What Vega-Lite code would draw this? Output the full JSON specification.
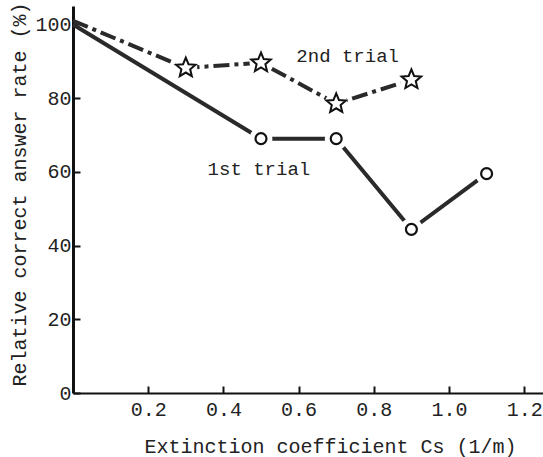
{
  "$schema": "https://vega.github.io/schema/vega-lite/v6.json",
  "width": 470,
  "height": 387,
  "autosize": "none",
  "padding": {"left": 73, "top": 6, "right": 0, "bottom": 64},
  "background": "white",
  "config": {
    "view": {"stroke": null},
    "axis": {
      "grid": false,
      "domainColor": "#111",
      "tickColor": "#111",
      "tickWidth": 2,
      "tickSize": -7,
      "labelFont": "Liberation Mono",
      "labelFontSize": 20,
      "labelColor": "#222",
      "titleFont": "Liberation Mono",
      "titleFontSize": 20,
      "titleFontWeight": "normal",
      "titleColor": "#222"
    }
  },
  "datasets": {
    "pts": [
      {"series": "1st trial", "x": 0, "y": 100},
      {"series": "1st trial", "x": 0.5, "y": 69},
      {"series": "1st trial", "x": 0.7, "y": 69},
      {"series": "1st trial", "x": 0.9, "y": 44.4},
      {"series": "1st trial", "x": 1.1, "y": 59.5},
      {"series": "2nd trial", "x": 0, "y": 101},
      {"series": "2nd trial", "x": 0.3, "y": 88.2},
      {"series": "2nd trial", "x": 0.5, "y": 89.6},
      {"series": "2nd trial", "x": 0.7, "y": 78.5},
      {"series": "2nd trial", "x": 0.9, "y": 85}
    ],
    "labels": [
      {"label": "2nd trial", "x": 0.594, "y": 91.5},
      {"label": "1st trial", "x": 0.358, "y": 60.9}
    ]
  },
  "layer": [
    {
      "data": {"name": "pts"},
      "transform": [{"filter": "datum.series === '1st trial'"}],
      "mark": {"type": "line", "color": "#2a2a2a", "strokeWidth": 4},
      "encoding": {
        "x": {"field": "x", "type": "quantitative", "scale": {"domain": [0, 1.25], "nice": false},
          "axis": {"values": [0.2, 0.4, 0.6, 0.8, 1.0, 1.2], "format": ".1f", "domainWidth": 2, "labelPadding": 13, "titlePadding": 17,
            "titleX": 257, "titleAlign": "center",
            "title": "Extinction coefficient Cs (1/m)"}},
        "y": {"field": "y", "type": "quantitative", "scale": {"domain": [0, 105], "nice": false},
          "axis": {"values": [0, 20, 40, 60, 80, 100], "domainWidth": 3, "labelPadding": 9, "titlePadding": 5,
            "titleY": 188, "titleAlign": "center",
            "title": "Relative correct answer rate (%)"}}
      }
    },
    {
      "data": {"name": "pts"},
      "transform": [{"filter": "datum.series === '2nd trial'"}],
      "mark": {"type": "line", "color": "#2a2a2a", "strokeWidth": 4, "strokeDash": [16, 5, 4, 5]},
      "encoding": {
        "x": {"field": "x", "type": "quantitative"},
        "y": {"field": "y", "type": "quantitative"}
      }
    },
    {
      "data": {"name": "pts"},
      "transform": [{"filter": "datum.x > 0"}],
      "mark": {"type": "point", "shape": "circle", "filled": true, "color": "white", "opacity": 1, "size": 520},
      "encoding": {
        "x": {"field": "x", "type": "quantitative"},
        "y": {"field": "y", "type": "quantitative"}
      }
    },
    {
      "data": {"name": "pts"},
      "transform": [{"filter": "datum.x > 0 && datum.series === '1st trial'"}],
      "mark": {"type": "point", "shape": "circle", "filled": false, "color": "#111", "strokeWidth": 2.2, "opacity": 1, "size": 120},
      "encoding": {
        "x": {"field": "x", "type": "quantitative"},
        "y": {"field": "y", "type": "quantitative"}
      }
    },
    {
      "data": {"name": "pts"},
      "transform": [{"filter": "datum.series === '2nd trial' && datum.x > 0"}],
      "mark": {"type": "point", "shape": "M0,-1L0.265,-0.364L0.951,-0.309L0.428,0.139L0.588,0.809L0,0.45L-0.588,0.809L-0.428,0.139L-0.951,-0.309L-0.265,-0.364Z", "filled": false, "color": "#111", "strokeWidth": 2, "opacity": 1, "size": 420},
      "encoding": {
        "x": {"field": "x", "type": "quantitative"},
        "y": {"field": "y", "type": "quantitative"}
      }
    },
    {
      "data": {"name": "labels"},
      "mark": {"type": "text", "align": "left", "baseline": "middle", "font": "Liberation Mono", "fontSize": 19, "color": "#222"},
      "encoding": {
        "x": {"field": "x", "type": "quantitative"},
        "y": {"field": "y", "type": "quantitative"},
        "text": {"field": "label"}
      }
    }
  ]
}
